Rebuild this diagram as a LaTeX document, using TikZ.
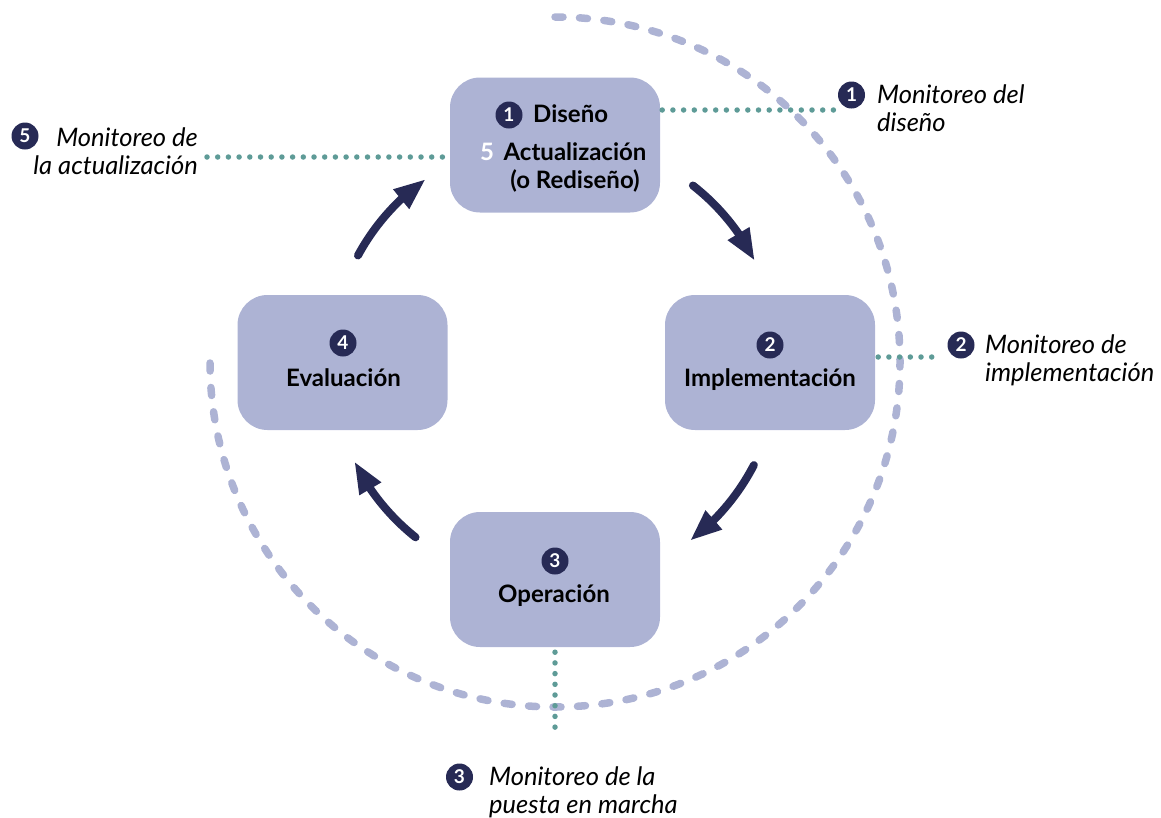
\documentclass[tikz,border=0pt]{standalone}
\usepackage{fontspec}
\setmainfont{Lato}
\usetikzlibrary{arrows.meta,bending}
\definecolor{boxfill}{HTML}{ADB3D4}
\definecolor{ringcol}{HTML}{ADB3D4}
\definecolor{navy}{HTML}{272A55}
\definecolor{dotteal}{HTML}{5E9B97}
\begin{document}
\begin{tikzpicture}[x=1pt,y=1pt,
  stage/.style={rectangle, rounded corners=30pt, fill=boxfill,
    minimum width=210pt, minimum height=135pt, inner sep=0pt},
  num/.style={circle, fill=navy, text=white, inner sep=0pt, minimum size=27pt,
    font=\bfseries\fontsize{19}{19}\selectfont},
  stagetext/.style={inner sep=0pt, text=black,
    font=\bfseries\fontsize{24}{27.5}\selectfont},
  note/.style={inner sep=0pt, text=black,
    font=\itshape\fontsize{25.5}{28}\selectfont},
  cycle/.style={draw=navy, line width=8pt, line cap=round,
    -{Triangle[length=32pt,width=23pt,flex]}},
  ring/.style={draw=ringcol, line width=7.5pt, line cap=round,
    dash pattern=on 8pt off 16.5pt},
  probe/.style={draw=dotteal, line width=5.5pt, line cap=round,
    dash pattern=on 0pt off 10.7pt}]

\useasboundingbox (0,0) rectangle (1161,-817);
\coordinate (c) at (555,-362);

% outer monitoring ring (three quarters, clockwise from the top)
\draw[ring] (c) ++(90:345) arc[start angle=90, end angle=-180, radius=345];

% stages
\node[stage] (design) at (555,-145) {};
\node[stage] (impl)   at (770,-362.5) {};
\node[stage] (oper)   at (555,-579.5) {};
\node[stage] (eval)   at (342.5,-362.5) {};

% stage labels
\node[num] (d1) at (509,-115) {1};
\node[stagetext, anchor=base west] (dt) at (533,-122) {Diseño};
\node[stagetext, anchor=base, text=white] (d5) at (487,-160.5) {5};
\node[stagetext, anchor=base, align=center] (dt2) at (575,-188) {Actualización\\(o Rediseño)};

\node[num] (i2) at (770,-345) {2};
\node[stagetext, anchor=base] (it) at (770,-386) {Implementación};

\node[num] (o3) at (555,-561) {3};
\node[stagetext, anchor=base] (ot) at (554,-602) {Operación};

\node[num] (e4) at (343,-343) {4};
\node[stagetext, anchor=base] (et) at (343.5,-386) {Evaluación};

% cycle arrows
\draw[cycle] (c) ++(151.6:224) arc[start angle=151.6, end angle=125.2, radius=224];
\draw[cycle] (c) ++(52:224) arc[start angle=52, end angle=26.8, radius=224];
\draw[cycle] (c) ++(-27.4:224) arc[start angle=-27.4, end angle=-53, radius=224];
\draw[cycle] (c) ++(-128.5:224) arc[start angle=-128.5, end angle=-153.7, radius=224];

% monitoring labels
\node[num] (m1) at (851.5,-95) {1};
\node[note, anchor=base west, align=left] (m1t) at (877,-131.5) {Monitoreo del\\diseño};

\node[num] (m2) at (961,-345) {2};
\node[note, anchor=base west, align=left] (m2t) at (985,-381.5) {Monitoreo de\\implementación};

\node[num] (m3) at (459.5,-777) {3};
\node[note, anchor=base west, align=left] (m3t) at (489,-813) {Monitoreo de la\\puesta en marcha};

\node[num] (m5) at (25,-136) {5};
\node[note, anchor=base east, align=right] (m5t) at (198,-174) {Monitoreo de\\la actualización};

% dotted monitoring leaders
\coordinate (p1) at (835,-110);
\coordinate (p2) at (940,-357);
\coordinate (p3) at (555,-737);
\coordinate (p5) at (207,-157);
\draw[probe] (design.east |- p1) ++(2,0) -- (p1);
\draw[probe] (impl.east |- p2) ++(3,0) -- (p2);
\draw[probe] (oper.south) ++(0,-5) -- (p3);
\draw[probe] (p5) -- (design.west |- p5);
\end{tikzpicture}
\end{document}
